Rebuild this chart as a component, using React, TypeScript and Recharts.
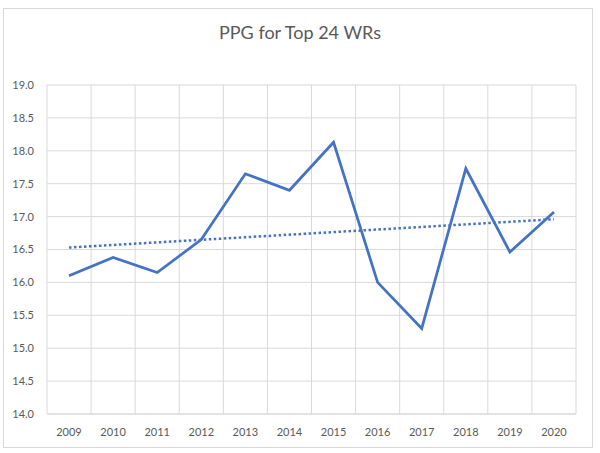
import React from "react";
import { LineChart, Line, XAxis, YAxis, CartesianGrid } from "recharts";

// PPG (points per game) for the top 24 wide receivers, by season
const years = ["2009", "2010", "2011", "2012", "2013", "2014", "2015", "2016", "2017", "2018", "2019", "2020"];
const ppg = [16.1, 16.38, 16.15, 16.65, 17.65, 17.4, 18.13, 16.0, 15.3, 17.73, 16.46, 17.07];
// linear trendline, read at both ends only
const trend = [16.53, null, null, null, null, null, null, null, null, null, null, 16.96];
const yTicks = [14, 14.5, 15, 15.5, 16, 16.5, 17, 17.5, 18, 18.5, 19];

const data = years.map((year, i) => ({ year, ppg: ppg[i], trend: trend[i] }));

const FONT = "Lato, 'Open Sans', sans-serif";
const TEXT = "#595959";
const GRID = "#d9d9d9";
const BLUE = "#4472C4";

export default function App() {
  return (
    <div
      style={{
        position: "absolute",
        left: 0,
        top: 0,
        width: 600,
        height: 453,
        background: "#fff",
        fontFamily: FONT,
      }}
    >
      <div
        style={{
          position: "absolute",
          left: 3,
          top: 8,
          width: 588,
          height: 438,
          border: `1px solid ${GRID}`,
        }}
      />
      <div
        style={{
          position: "absolute",
          left: 0,
          top: 21,
          width: 600,
          textAlign: "center",
          fontSize: 18,
          color: TEXT,
        }}
      >
        PPG for Top 24 WRs
      </div>
      <div style={{ position: "absolute", left: 0, top: 0 }}>
        <LineChart
          width={600}
          height={453}
          data={data}
          margin={{ top: 85, right: 24, bottom: 0, left: 0 }}
        >
          <CartesianGrid
            stroke={GRID}
            strokeWidth={1}
            verticalCoordinatesGenerator={({ offset }: any) =>
              years.concat([""]).map((_, i) => offset.left + (i * offset.width) / years.length)
            }
          />
          <XAxis
            dataKey="year"
            height={39}
            padding={{ left: 22, right: 22 }}
            axisLine={{ stroke: GRID }}
            tickLine={false}
            tickMargin={8}
            tick={{ fill: TEXT, fontSize: 11, fontFamily: FONT }}
            interval={0}
          />
          <YAxis
            width={47}
            domain={[14, 19]}
            ticks={yTicks}
            allowDataOverflow
            axisLine={false}
            tickLine={false}
            tickMargin={7}
            tickFormatter={(v: number) => v.toFixed(1)}
            tick={{ fill: TEXT, fontSize: 11, fontFamily: FONT }}
          />
          <Line
            type="linear"
            dataKey="trend"
            stroke={BLUE}
            strokeWidth={2.5}
            strokeDasharray="2.5 2.5"
            dot={false}
            connectNulls
            isAnimationActive={false}
          />
          <Line
            type="linear"
            dataKey="ppg"
            stroke={BLUE}
            strokeWidth={2.75}
            dot={false}
            isAnimationActive={false}
          />
        </LineChart>
      </div>
    </div>
  );
}
